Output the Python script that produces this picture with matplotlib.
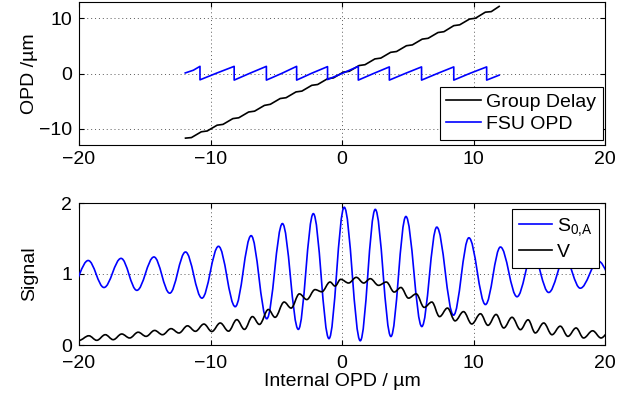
import matplotlib
matplotlib.use('Agg')
import matplotlib.pyplot as plt
from matplotlib.path import Path
from matplotlib.patches import PathPatch
from matplotlib.lines import Line2D

# ---------------- data ----------------
# Top panel: Group Delay (black)
gd_x = [-11.9, -11.45, -10.7, -10.25, -9.5, -9.05, -8.3, -7.85, -7.1, -6.65,
        -5.9, -5.45, -4.7, -4.25, -3.5, -3.05, -2.3, -1.85, -1.1, -0.65,
        0.1, 0.55, 1.3, 1.75, 2.5, 2.95, 3.7, 4.15, 4.9, 5.35,
        6.1, 6.55, 7.3, 7.75, 8.5, 8.95, 9.7, 10.15, 10.9, 11.35, 11.95]
gd_y = [-11.75, -11.65, -10.6, -10.45, -9.4, -9.25, -8.2, -8.05, -7.0, -6.85,
        -5.8, -5.6, -4.55, -4.4, -3.35, -3.2, -2.15, -2.0, -0.95, -0.8,
        0.25, 0.4, 1.45, 1.6, 2.65, 2.8, 3.85, 4.0, 5.05, 5.2,
        6.25, 6.4, 7.45, 7.6, 8.7, 8.85, 9.9, 10.05, 11.15, 11.25, 12.2]

# Top panel: FSU OPD (blue), wrapped sawtooth
fsu_x = [-11.92, -11.3, -10.8, -10.8, -9.5, -8.2, -8.2, -7.0, -5.75, -5.75,
         -4.6, -3.45, -3.45, -2.3, -1.1, -1.1, 0.05, 1.24, 1.24, 2.4,
         3.6, 3.6, 4.8, 6.05, 6.05, 7.3, 8.5, 8.5, 9.7, 11.0, 11.0, 11.95]
fsu_y = [0.1, 0.6, 1.3, -1.15, 0.1, 1.3, -1.2, 0.05, 1.3, -1.2,
         0.0, 1.3, -1.2, 0.05, 1.25, -1.1, 0.05, 1.3, -1.2, 0.0,
         1.2, -1.2, 0.0, 1.2, -1.2, 0.05, 1.2, -1.2, 0.0, 1.2, -1.2, -0.3]

# Bottom panel: S_0,A extrema (blue)
s_x = [-20.6, -19.3, -18.1, -16.8, -15.6, -14.3, -13.1, -11.9, -10.65, -9.39,
       -8.12, -6.91, -5.72, -4.53, -3.32, -2.18, -0.99, 0.17, 1.39, 2.53,
       3.72, 4.86, 6.07, 7.21, 8.48, 9.65, 10.91, 12.05, 13.31, 14.5,
       15.72, 16.95, 18.12, 19.5, 20.8]
s_y = [0.81, 1.19, 0.81, 1.22, 0.77, 1.24, 0.73, 1.31, 0.66, 1.39,
       0.54, 1.54, 0.37, 1.71, 0.22, 1.85, 0.09, 1.94, 0.06, 1.91,
       0.12, 1.81, 0.26, 1.66, 0.42, 1.51, 0.57, 1.38, 0.68, 1.28,
       0.74, 1.22, 0.80, 1.18, 0.84]

# Bottom panel: V extrema (black)
v_x = [-20.0, -19.25, -18.65, -18.0, -17.4, -16.75, -16.15, -15.5, -14.9, -14.25,
       -13.65, -13.0, -12.4, -11.75, -11.15, -10.5, -9.9, -9.26, -8.63, -8.0,
       -7.42, -6.81, -6.28, -5.6, -5.09, -4.4, -3.87, -3.24, -2.68, -2.05,
       -1.54, -0.91, -0.53, -0.1, 0.5, 1.09, 1.65, 2.15, 2.78, 3.37,
       3.97, 4.48, 5.06, 5.64, 6.25, 6.83, 7.42, 8.02, 8.6, 9.24,
       9.87, 10.53, 11.1, 11.72, 12.3, 12.93, 13.57, 14.15, 14.7, 15.34,
       15.97, 16.6, 17.18, 17.8, 18.37, 19.06, 19.7, 20.3]
v_y = [0.065, 0.13, 0.066, 0.145, 0.075, 0.155, 0.099, 0.18, 0.122, 0.205,
       0.145, 0.23, 0.169, 0.27, 0.193, 0.295, 0.19, 0.31, 0.195, 0.357,
       0.22, 0.40, 0.29, 0.50, 0.39, 0.605, 0.52, 0.72, 0.64, 0.78,
       0.75, 0.887, 0.83, 0.925, 0.873, 0.953, 0.873, 0.934, 0.84, 0.887,
       0.746, 0.81, 0.66, 0.72, 0.53, 0.605, 0.40, 0.52, 0.34, 0.47,
       0.296, 0.44, 0.277, 0.43, 0.24, 0.39, 0.216, 0.355, 0.17, 0.31,
       0.145, 0.265, 0.122, 0.24, 0.099, 0.2, 0.099, 0.18]

x_ticks = [-20, -10, 0, 10, 20]
top_yticks = [-10, 0, 10]
bot_yticks = [0, 1, 2]

# ---------------- style ----------------
plt.rcParams['font.family'] = ['Liberation Sans', 'DejaVu Sans']
plt.rcParams['font.size'] = 14
plt.rcParams['mathtext.fontset'] = 'custom'
plt.rcParams['mathtext.rm'] = 'Liberation Sans'
plt.rcParams['mathtext.it'] = 'Liberation Sans:italic'

BLUE = (0, 0, 1)
BLACK = (0, 0, 0)
LW = 1.2


def smooth_path(ax, xs, ys, color):
    """Smooth curve through extrema using cubic Bezier segments."""
    k = 0.365
    verts = [(xs[0], ys[0])]
    codes = [Path.MOVETO]
    for i in range(len(xs) - 1):
        dx = xs[i + 1] - xs[i]
        verts += [(xs[i] + k * dx, ys[i]), (xs[i + 1] - k * dx, ys[i + 1]),
                  (xs[i + 1], ys[i + 1])]
        codes += [Path.CURVE4] * 3
    patch = PathPatch(Path(verts, codes), fill=False, edgecolor=color,
                      linewidth=LW, zorder=3)
    ax.add_patch(patch)


def style(ax, xpad):
    ax.tick_params(direction='in', top=True, right=True, length=3.6,
                   width=0.8, colors='black')
    ax.tick_params(axis='x', pad=xpad)
    ax.tick_params(axis='y', pad=5)
    for s in ax.spines.values():
        s.set_linewidth(0.8)
    ax.grid(True, linestyle=(0, (1, 3)), color='0.35', linewidth=0.7)
    ax.set_axisbelow(True)


fig = plt.figure(figsize=(6.39, 3.98), dpi=100)
ax1 = fig.add_axes([79 / 639, 1 - 145 / 398, 526 / 639, 143 / 398])
ax2 = fig.add_axes([79 / 639, 1 - 345 / 398, 526 / 639, 142 / 398])

# top panel
ax1.plot(gd_x, gd_y, color=BLACK, lw=LW, label='Group Delay')
ax1.plot(fsu_x, fsu_y, color=BLUE, lw=LW, label='FSU OPD')
ax1.set_xlim(-20, 20)
ax1.set_ylim(-13, 13)
ax1.set_xticks(x_ticks)
ax1.set_yticks(top_yticks)
style(ax1, 4.5)
ax1.set_ylabel('OPD /µm')
leg1 = ax1.legend(loc='lower right', bbox_to_anchor=(0.9962, 0.035),
                  borderaxespad=0, fancybox=False, framealpha=1,
                  edgecolor='black', borderpad=0.35, handlelength=1.8,
                  handletextpad=0.25, labelspacing=0.22)
leg1.get_frame().set_linewidth(0.8)

# bottom panel
smooth_path(ax2, s_x, s_y, BLUE)
smooth_path(ax2, v_x, v_y, BLACK)
ax2.set_xlim(-20, 20)
ax2.set_ylim(0, 2)
ax2.set_xticks(x_ticks)
ax2.set_yticks(bot_yticks)
style(ax2, 7)
ax2.set_ylabel('Signal')
ax2.set_xlabel('Internal OPD / µm', labelpad=1)
handles = [Line2D([], [], color=BLUE, lw=LW), Line2D([], [], color=BLACK, lw=LW)]
leg2 = ax2.legend(handles, [r'S$_{\mathrm{0{,}A}}$', 'V'], loc='upper right',
                  bbox_to_anchor=(0.9886, 0.9577), borderaxespad=0,
                  fancybox=False, framealpha=1, edgecolor='black',
                  borderpad=0.35, handlelength=1.7, handletextpad=0.25,
                  labelspacing=0.3)
leg2.get_frame().set_linewidth(0.8)

for ax in (ax1, ax2):
    ax.yaxis.set_label_coords(-0.078, 0.5)

fig.savefig('out.png', dpi=100)
